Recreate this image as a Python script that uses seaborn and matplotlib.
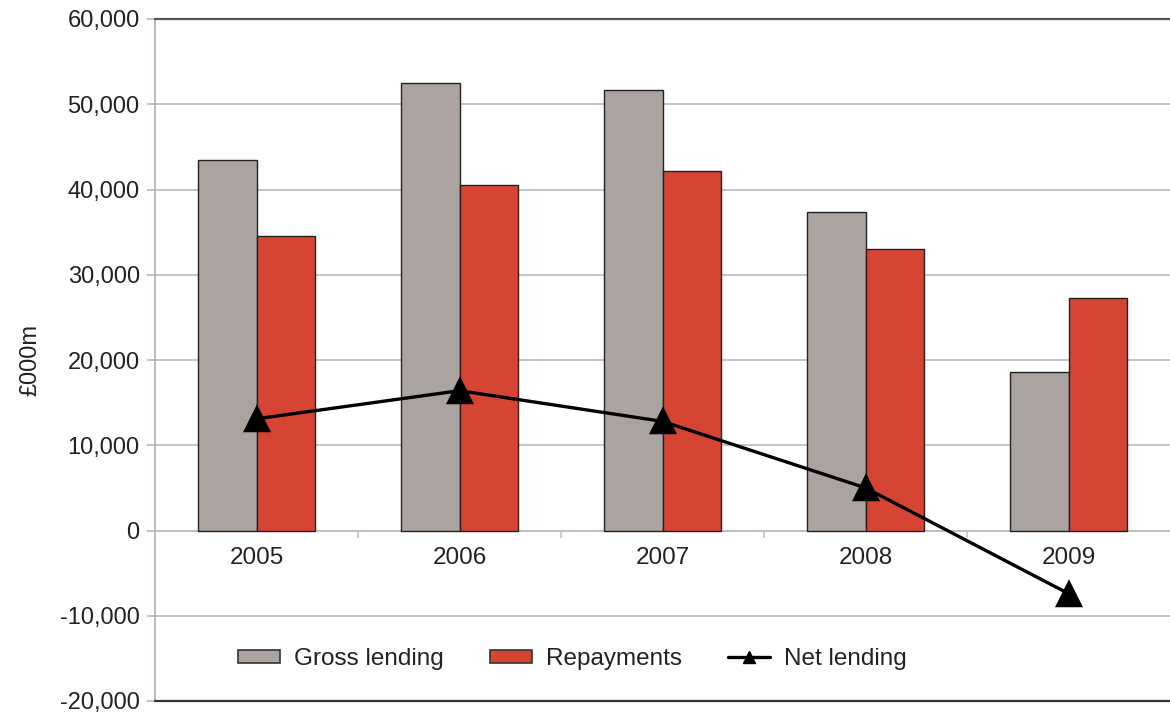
import matplotlib
matplotlib.use("Agg")
import matplotlib.pyplot as plt
import seaborn as sns
import pandas as pd
from matplotlib.patches import Patch
from matplotlib.lines import Line2D
from matplotlib.ticker import FuncFormatter, FixedLocator

years = ["2005", "2006", "2007", "2008", "2009"]
gross_lending = [43500, 52500, 51700, 37400, 18600]
repayments = [34500, 40500, 42200, 33000, 27300]
net_lending = [13100, 16400, 12800, 5000, -7400]

series_names = ["Gross lending", "Repayments", "Net lending"]
colors = {"Gross lending": "#aba3a0", "Repayments": "#d64533"}

sns.set_theme(style="white")
plt.rcParams["font.family"] = ["Liberation Sans", "DejaVu Sans"]

df = pd.DataFrame({
    "year": years * 2,
    "value": gross_lending + repayments,
    "series": ["Gross lending"] * len(years) + ["Repayments"] * len(years),
})

fig = plt.figure(figsize=(11.7, 7.13), dpi=100)
ax = fig.add_axes([155 / 1170, 1 - 701 / 713, 1 - 155 / 1170, (701 - 19) / 713])

sns.barplot(data=df, x="year", y="value", hue="series", order=years,
            hue_order=["Gross lending", "Repayments"], palette=colors,
            saturation=1, width=0.58, edgecolor="#222222", linewidth=1.0,
            ax=ax, legend=False, zorder=3)

sns.pointplot(x=years, y=net_lending, order=years, color="black",
              marker="^", markersize=17, linewidth=2.4, ax=ax, zorder=5)

ax.set_ylim(-20000, 60000)
ax.set_xlim(-0.5, 4.5)
ax.yaxis.set_major_locator(FixedLocator(range(-20000, 60001, 10000)))
ax.yaxis.set_major_formatter(FuncFormatter(lambda v, p: f"{int(v):,}"))
ax.yaxis.grid(True, color="#c4bfbf", linewidth=1.3)
ax.set_axisbelow(True)

for s in ["top", "right"]:
    ax.spines[s].set_visible(False)
ax.spines["left"].set_color("#b5adad")
ax.spines["left"].set_linewidth(1.2)
ax.spines["bottom"].set_position(("data", 0))
ax.spines["bottom"].set_color("#c4bfbf")
ax.spines["bottom"].set_linewidth(1.3)

ax.axhline(60000, color="#555555", linewidth=1.6, clip_on=False, zorder=4)
ax.axhline(-20000, color="#333333", linewidth=1.6, clip_on=False, zorder=4)

ax.tick_params(axis="y", which="major", left=True, length=6, width=1.1,
               color="#b5adad", labelsize=17, labelcolor="#222222", pad=5)
ax.xaxis.set_minor_locator(FixedLocator([0.5, 1.5, 2.5, 3.5]))
ax.tick_params(axis="x", which="major", bottom=True, length=0,
               labelsize=17.5, labelcolor="#222222", pad=12)
ax.tick_params(axis="x", which="minor", bottom=True, length=5, width=1.1,
               color="#c4bfbf", direction="out")

ax.set_xlabel("")
ax.set_ylabel("£000m", fontsize=17, color="#222222")
ax.yaxis.set_label_coords(-0.112, 0.5)

handles = [
    Patch(facecolor=colors["Gross lending"], edgecolor="#333333", linewidth=1.2),
    Patch(facecolor=colors["Repayments"], edgecolor="#333333", linewidth=1.2),
    Line2D([0], [0], color="black", linewidth=2.4, marker="^", markersize=9),
]
ax.legend(handles, series_names, loc="center", bbox_to_anchor=(0.411, 0.0616),
          ncol=3, frameon=False, fontsize=17.5, handlelength=1.75,
          handleheight=0.45, handletextpad=0.55, columnspacing=1.9,
          labelcolor="#222222")

fig.savefig("out.png", dpi=100)
